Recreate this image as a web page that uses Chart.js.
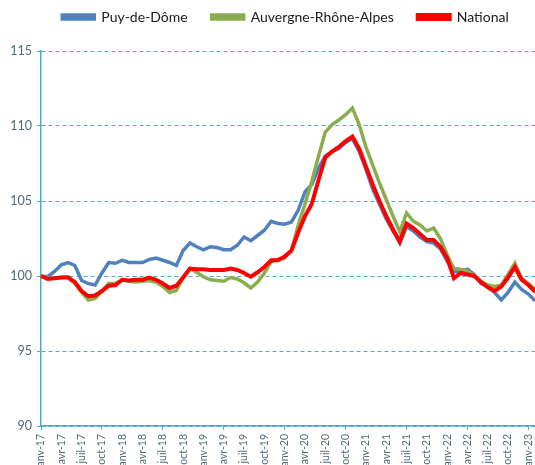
<!DOCTYPE html>
<html><head><meta charset="utf-8">
<script src="https://cdn.jsdelivr.net/npm/chart.js@4.4.0/dist/chart.umd.min.js"></script>
<style>html,body{margin:0;padding:0;background:#fff;overflow:hidden}#wrap{width:535px;height:465px;position:relative;overflow:hidden}</style>
</head><body><div id="wrap"><canvas id="c" width="545" height="465"></canvas></div>
<script>
const months = [
 'janv-17','févr-17','mars-17','avr-17','mai-17','juin-17','juil-17','août-17','sept-17','oct-17','nov-17','déc-17',
 'janv-18','févr-18','mars-18','avr-18','mai-18','juin-18','juil-18','août-18','sept-18','oct-18','nov-18','déc-18',
 'janv-19','févr-19','mars-19','avr-19','mai-19','juin-19','juil-19','août-19','sept-19','oct-19','nov-19','déc-19',
 'janv-20','févr-20','mars-20','avr-20','mai-20','juin-20','juil-20','août-20','sept-20','oct-20','nov-20','déc-20',
 'janv-21','févr-21','mars-21','avr-21','mai-21','juin-21','juil-21','août-21','sept-21','oct-21','nov-21','déc-21',
 'janv-22','févr-22','mars-22','avr-22','mai-22','juin-22','juil-22','août-22','sept-22','oct-22','nov-22','déc-22',
 'janv-23','févr-23'];

const puyDeDome = [
 100.0, 99.95, 100.3, 100.75, 100.9, 100.7, 99.7, 99.5, 99.4, 100.2, 100.9, 100.85,
 101.05, 100.9, 100.9, 100.9, 101.1, 101.2, 101.05, 100.9, 100.7, 101.7, 102.2, 101.95,
 101.75, 101.95, 101.9, 101.75, 101.75, 102.05, 102.6, 102.35, 102.7, 103.05, 103.65, 103.5,
 103.45, 103.6, 104.4, 105.6, 106.1, 107.2, 108.0, 108.3, 108.5, 108.9, 109.15, 108.3,
 107.1, 105.8, 104.8, 103.8, 103.0, 102.2, 103.3, 103.0, 102.6, 102.3, 102.2, 101.8,
 101.0, 100.3, 100.3, 100.45, 100.1, 99.5, 99.3, 98.9, 98.4, 98.9, 99.6, 99.1,
 98.8, 98.35];

const auvergneRhoneAlpes = [
 100.0, 99.85, 99.85, 99.9, 99.95, 99.5, 98.9, 98.4, 98.5, 99.0, 99.5, 99.5,
 99.75, 99.65, 99.6, 99.65, 99.7, 99.6, 99.3, 98.9, 99.05, 99.9, 100.5, 100.25,
 99.95, 99.75, 99.7, 99.65, 99.9, 99.8, 99.55, 99.2, 99.6, 100.2, 100.95, 101.1,
 101.2, 101.7, 103.4, 104.8, 106.3, 108.0, 109.6, 110.1, 110.4, 110.75, 111.2, 110.1,
 108.6, 107.4, 106.2, 105.1, 104.0, 102.95, 104.2, 103.65, 103.4, 103.0, 103.2, 102.5,
 101.4, 100.5, 100.45, 100.35, 100.0, 99.65, 99.4, 99.3, 99.4, 100.1, 100.85, 99.85,
 99.5, 99.1];

const national = [
 100.0, 99.8, 99.85, 99.9, 99.9, 99.6, 99.0, 98.65, 98.7, 99.0, 99.35, 99.4,
 99.75, 99.7, 99.75, 99.75, 99.9, 99.75, 99.5, 99.2, 99.35, 99.9, 100.5, 100.45,
 100.45, 100.4, 100.4, 100.4, 100.5, 100.4, 100.2, 99.95, 100.25, 100.6, 101.05, 101.05,
 101.3, 101.7, 102.9, 104.0, 104.8, 106.4, 107.9, 108.3, 108.6, 109.0, 109.3, 108.5,
 107.3, 106.1, 105.0, 104.0, 103.1, 102.3, 103.5, 103.2, 102.8, 102.4, 102.4, 101.95,
 101.2, 99.85, 100.2, 100.1, 100.0, 99.6, 99.25, 99.0, 99.3, 99.9, 100.6, 99.75,
 99.4, 98.95];

const seriesNames = ['Puy-de-Dôme', 'Auvergne-Rhône-Alpes', 'National'];
const yMin = 90, yMax = 115, yStep = 5;

const teal = '#4BACC6';
const tickColor = '#4d6b77';

const legendShift = {
  id: 'legendShift',
  beforeInit(chart) {
    const lg = chart.legend;
    if (lg) {
      const fit = lg.fit;
      lg.fit = function () { fit.call(this); this.height = 51; };
    }
  },
  afterLayout(chart) {
    const lg = chart.legend;
    if (lg) { lg.left += 13; lg.right += 13; lg.top -= 14; }
  }
};

new Chart(document.getElementById('c').getContext('2d'), {
  type: 'line',
  data: {
    labels: months,
    datasets: [
      { label: seriesNames[0], data: puyDeDome, borderColor: '#4F81BD', backgroundColor: '#4F81BD', borderWidth: 3.5, pointRadius: 0, tension: 0, order: 2 },
      { label: seriesNames[1], data: auvergneRhoneAlpes, borderColor: '#8AAD4E', backgroundColor: '#8AAD4E', borderWidth: 3.5, pointRadius: 0, tension: 0, order: 1 },
      { label: seriesNames[2], data: national, borderColor: '#FF0000', backgroundColor: '#FF0000', borderWidth: 4, pointRadius: 0, tension: 0, order: 0 }
    ]
  },
  options: {
    responsive: false, animation: false, devicePixelRatio: 1,
    layout: { padding: 0 },
    plugins: {
      legend: {
        position: 'top',
        labels: {
          boxWidth: 32, boxHeight: 4, padding: 24,
          font: { family: 'Lato', size: 14 }, color: '#1a1a1a',
          sort: (a, b) => a.datasetIndex - b.datasetIndex
        }
      },
      tooltip: { enabled: false }
    },
    scales: {
      x: {
        type: 'category',
        grid: { drawOnChartArea: false, drawTicks: true, tickLength: 4,
                color: c => (c.index % 3 === 0 ? teal : 'rgba(0,0,0,0)') },
        border: { color: teal, width: 1.5 },
        ticks: {
          autoSkip: false, maxRotation: 90, minRotation: 90, padding: 4,
          color: tickColor, font: { family: 'Lato', size: 10.5 },
          callback: function (v, i) { return i % 3 === 0 ? this.getLabelForValue(v) : null; }
        },
        afterFit: s => { s.height = 39; }
      },
      y: {
        min: yMin, max: yMax,
        ticks: { stepSize: yStep, color: tickColor, font: { family: 'Lato', size: 12.5 }, padding: 5 },
        grid: { color: teal, lineWidth: 1, tickLength: 4 },
        border: { color: teal, width: 1.5, dash: [4, 3] },
        afterFit: s => { s.width = 41; }
      }
    }
  },
  plugins: [legendShift]
});
</script>
</body></html>
